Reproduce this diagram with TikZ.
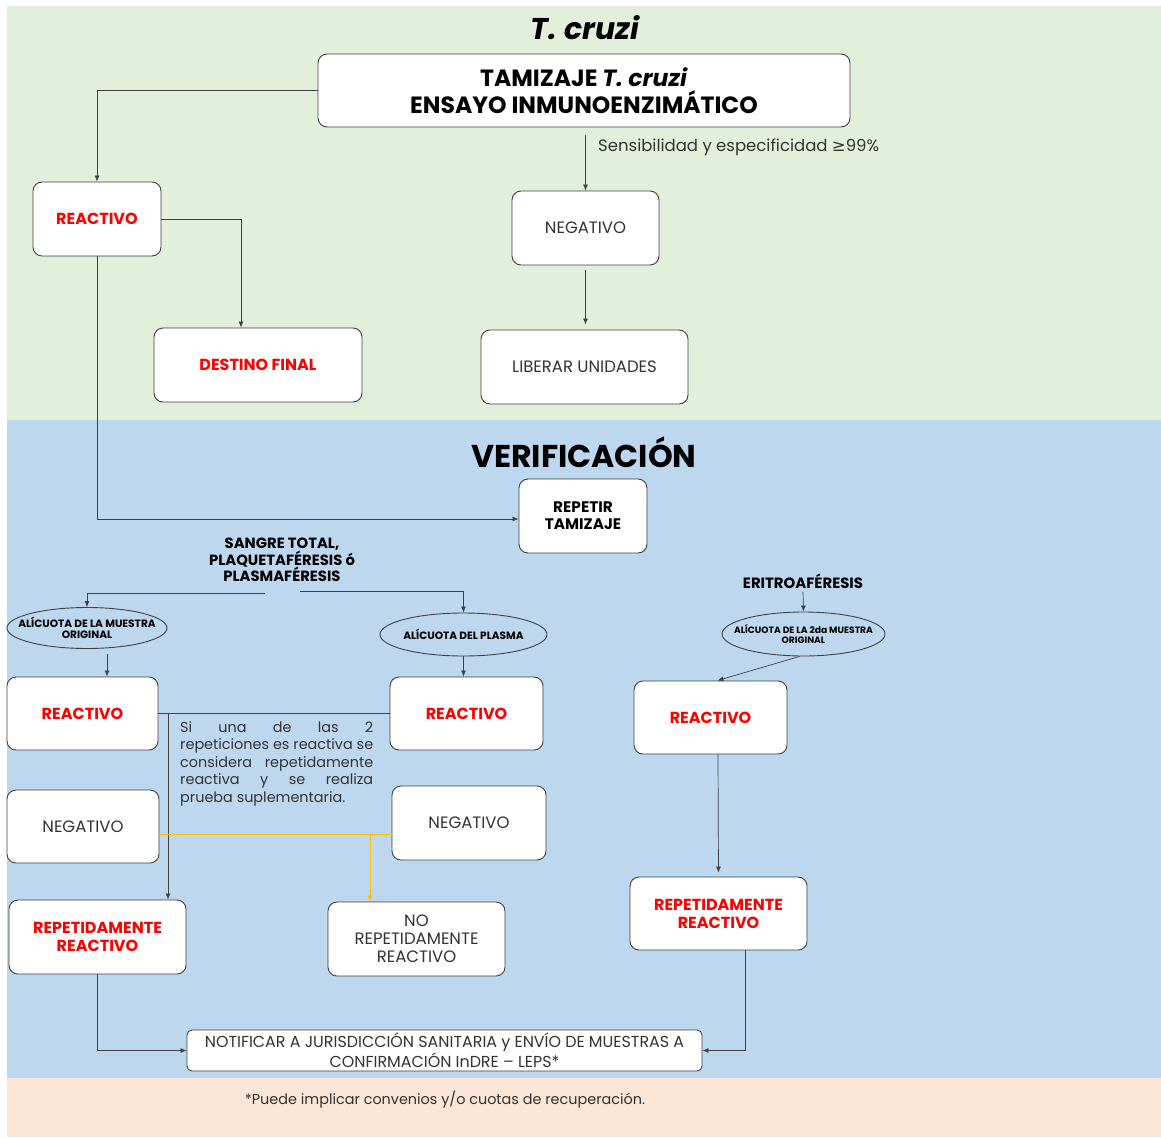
\documentclass[tikz,border=0pt]{standalone}
\usepackage{fontspec}
\setmainfont{Poppins}
\newfontfamily\simbolos{DejaVu Sans}
\usetikzlibrary{shapes.geometric,arrows.meta}
\definecolor{verdefondo}{HTML}{E2EFDA}
\definecolor{azulfondo}{HTML}{BDD7EE}
\definecolor{rosafondo}{HTML}{FBE5D6}
\definecolor{amarillo}{HTML}{FFC000}
\definecolor{trazo}{HTML}{404040}
\definecolor{textogris}{HTML}{333333}

\tikzset{
  caja/.style={draw=trazo, fill=white, rounded corners=9pt, line width=0.9pt,
    inner sep=0pt, align=center},
  rojo/.style={text=red, font=\bfseries\fontsize{16}{18}\selectfont},
  gris/.style={text=textogris, font=\fontsize{16.5}{18}\selectfont},
  negrita/.style={text=black, align=center, font=\bfseries\fontsize{15.3}{17}\selectfont},
  elipse/.style={draw=trazo, ellipse, line width=0.9pt, inner ysep=0pt, inner xsep=-14pt,
    align=center, font=\bfseries\fontsize{10.6}{11}\selectfont},
  flecha/.style={draw=trazo, line width=0.7pt, -{Latex[length=6pt,width=5pt]}},
  recta/.style={draw=trazo, line width=0.7pt},
}

\begin{document}
\begin{tikzpicture}[x=1pt,y=-1pt]
  \useasboundingbox (0,0) rectangle (1161,1137);
  % fondos
  \fill[verdefondo] (7,6) rectangle (1161,420);
  \fill[azulfondo] (7,420) rectangle (1161,1078);
  \fill[rosafondo] (7,1078) rectangle (1161,1137);

  % T. cruzi
  \node (titulo) at (585,28) {\bfseries\itshape\fontsize{30}{36}\selectfont T. cruzi};
  \node[caja, minimum width=532, minimum height=73,
    font=\bfseries\fontsize{23.5}{27}\selectfont] (tamizaje) at (584,90.5)
    {TAMIZAJE \textit{T. cruzi}\\ ENSAYO INMUNOENZIMÁTICO};
  \node[caja, rojo, minimum width=128, minimum height=74] (reac1) at (97,219) {REACTIVO};
  \node[caja, rojo, minimum width=208, minimum height=74] (destino) at (258,365) {DESTINO FINAL};
  \node[caja, gris, minimum width=147, minimum height=74] (neg1) at (585.5,228) {NEGATIVO};
  \node[caja, gris, minimum width=207, minimum height=74] (liberar) at (584.5,367) {LIBERAR UNIDADES};

  \draw[flecha] (tamizaje.west) -| (reac1.north);
  \draw[flecha] (reac1.east) -| ([xshift=-17pt]destino.north);
  \draw[flecha, shorten <=8pt] (tamizaje.south -| neg1.north) -- (neg1.north)
    node[pos=0.31, anchor=west, xshift=9pt, gris, font=\fontsize{16.5}{18}\selectfont]
    {Sensibilidad y especificidad {\simbolos ≥}99\%};
  \draw[flecha, shorten <=5pt, shorten >=5pt] (neg1.south) -- (neg1.south |- liberar.north);

  % verificacion
  \node (verif) at (584,452) {\bfseries\fontsize{31.5}{36}\selectfont VERIFICACIÓN};
  \node[caja, negrita, minimum width=128, minimum height=74] (repetir) at (583,516)
    {REPETIR\\ TAMIZAJE};
  \draw[flecha] (reac1.south) |- ([yshift=-3pt]repetir.west);

  \node[negrita, font=\bfseries\fontsize{14.8}{16.5}\selectfont] (sangre) at (282,560)
    {SANGRE TOTAL,\\ PLAQUETAFÉRESIS ó\\ PLASMAFÉRESIS};
  \coordinate (s1) at (265,593);
  \coordinate (s2) at (300,591);
  \node[elipse, minimum width=160, minimum height=41] (alic1) at (87,628)
    {ALÍCUOTA DE LA MUESTRA\\ ORIGINAL};
  \node[elipse, minimum width=167, minimum height=43] (alic2) at (463.5,634.5)
    {ALÍCUOTA DEL PLASMA};
  \draw[flecha] (s1) -| (alic1.north);
  \draw[flecha] (s2) -| (alic2.north);

  \node[caja, rojo, minimum width=151, minimum height=73] (reac2) at (82.5,713.5) {REACTIVO};
  \node[caja, rojo, minimum width=153, minimum height=73] (reac3) at (466.5,713.5) {REACTIVO};
  \draw[flecha, shorten <=5pt] ([xshift=20pt]alic1.south) -- ([xshift=20pt]alic1.south |- reac2.north);
  \draw[flecha] (alic2.south) -- (alic2.south |- reac3.north);
  \draw[recta] (reac2.east) -- (reac3.west);

  \node[gris, text width=193, align=justify, anchor=north west, inner sep=0pt,
    font=\fontsize{14.4}{17.5}\selectfont] (texto) at (180,721)
    {Si una de las 2\linebreak repeticiones es reactiva se\linebreak considera repetidamente\linebreak reactiva y se realiza\linebreak prueba suplementaria.};

  \node[caja, gris, minimum width=152, minimum height=73] (neg2) at (83,826.5) {NEGATIVO};
  \node[caja, gris, minimum width=154, minimum height=74] (neg3) at (469,823) {NEGATIVO};
  \node[caja, rojo, minimum width=177, minimum height=74] (rep1) at (97.5,937)
    {REPETIDAMENTE\\ REACTIVO};
  \node[caja, gris, minimum width=177, minimum height=74] (norep) at (416.5,939)
    {NO\\ REPETIDAMENTE\\ REACTIVO};

  \coordinate (j1) at (168,714);
  \draw[flecha] (j1) -- (j1 |- rep1.north);
  \coordinate (j2) at (370,834);
  \draw[recta, amarillo] (neg2.east |- j2) -- (neg3.west |- j2);
  \draw[flecha, amarillo] (j2) -- (j2 |- norep.north);

  % eritroaferesis
  \node[negrita, font=\bfseries\fontsize{14.9}{16}\selectfont] (eritro) at (803,581) {ERITROAFÉRESIS};
  \node[elipse, minimum width=163, minimum height=44,
    font=\bfseries\fontsize{9.2}{10}\selectfont] (alic3) at (803.5,634)
    {ALÍCUOTA DE LA 2da MUESTRA\\ ORIGINAL};
  \node[caja, rojo, minimum width=153, minimum height=73] (reac4) at (710.5,717.5) {REACTIVO};
  \node[caja, rojo, minimum width=177, minimum height=73] (rep2) at (718.5,913.5)
    {REPETIDAMENTE\\ REACTIVO};
  \draw[flecha] (eritro.south) -- (alic3.north);
  \draw[flecha] ([xshift=-4pt]alic3.south) -- ([xshift=7pt]reac4.north);
  \draw[flecha, shorten >=4pt] ([xshift=7.5pt]reac4.south) -- (rep2.north);

  % notificacion
  \node[caja, gris, rounded corners=5pt, minimum width=515, minimum height=41,
    font=\fontsize{15.9}{18}\selectfont] (notif) at (444.5,1050.5)
    {NOTIFICAR A JURISDICCIÓN SANITARIA y ENVÍO DE MUESTRAS A\\ CONFIRMACIÓN InDRE – LEPS*};
  \draw[flecha] (rep1.south) |- (notif.west);
  \draw[flecha] ([xshift=26.5pt]rep2.south) |- (notif.east);

  \node[gris, font=\fontsize{14.4}{16}\selectfont] (nota) at (445,1100)
    {*Puede implicar convenios y/o cuotas de recuperación.};
\end{tikzpicture}
\end{document}
